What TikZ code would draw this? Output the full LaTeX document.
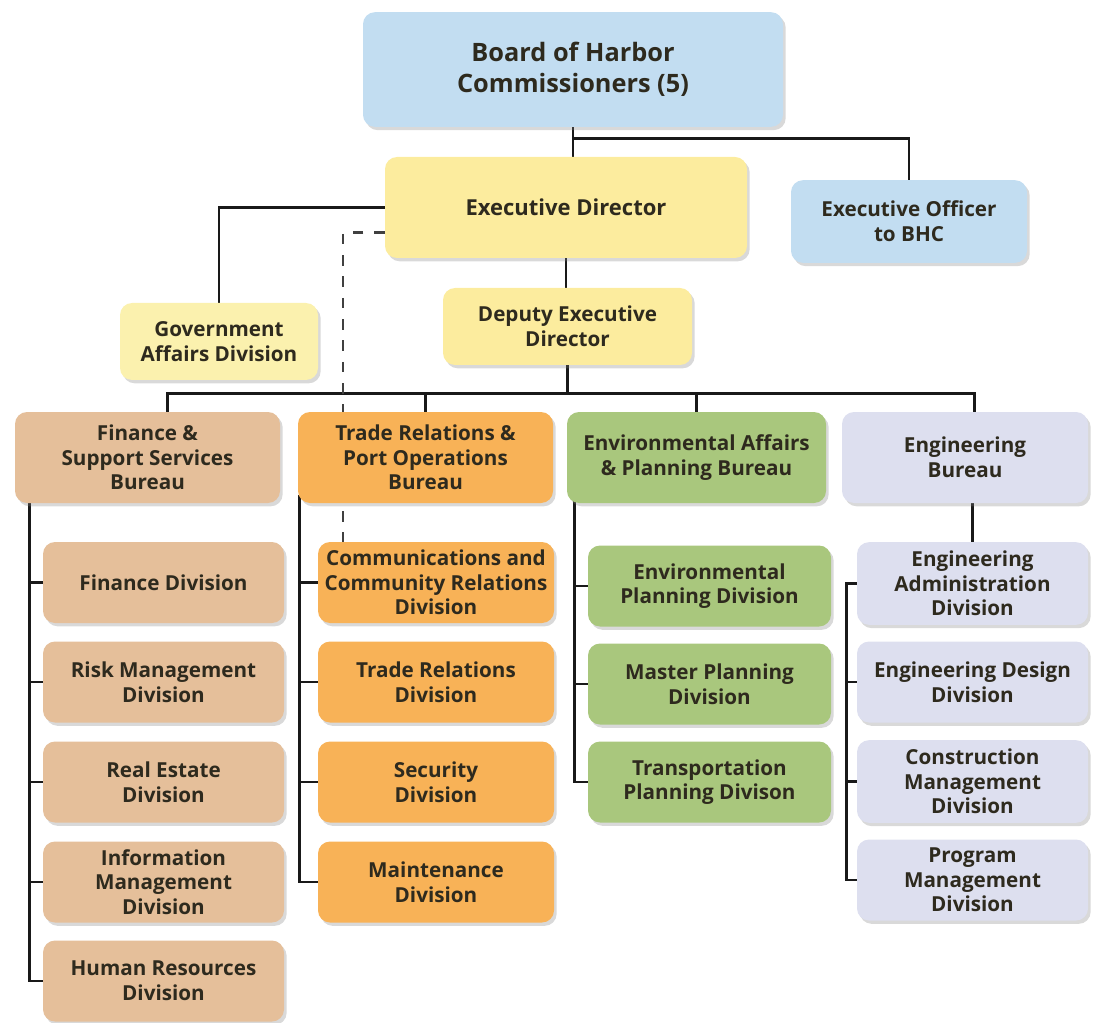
\documentclass[tikz,border=0pt]{standalone}
\usepackage{fontspec}
\setmainfont{Open Sans}
\usepackage{xcolor}
\usetikzlibrary{positioning,calc,shadows}

\definecolor{bhcblue}{HTML}{C2DDF1}
\definecolor{edyellow}{HTML}{FCEC9E}
\definecolor{govyellow}{HTML}{FBF1AE}
\definecolor{fintan}{HTML}{E5BF9A}
\definecolor{tradeorange}{HTML}{F8B257}
\definecolor{envgreen}{HTML}{A9C77D}
\definecolor{englav}{HTML}{DDDFEF}
\definecolor{inkdark}{HTML}{2E2A1E}

\pgfdeclarelayer{bg}
\pgfsetlayers{bg,main}

\begin{document}
\begin{tikzpicture}[x=0.75pt, y=-0.75pt,
  every node/.style={font=\bfseries\fontsize{15.5}{18.5}\selectfont, text=inkdark},
  unit/.style={rounded corners=9pt, align=center, inner sep=1pt,
               drop shadow={shadow xshift=2pt, shadow yshift=-2.5pt, opacity=.3}},
  link/.style={line width=2.2pt, black!90},
  dotlink/.style={line width=2pt, black!75, dash pattern=on 8pt off 8pt}]
  \useasboundingbox (0,0) rectangle (1099,1023);

  % top of the chart
  \node[unit, fill=bhcblue, minimum width=315pt, minimum height=86pt,
        font=\bfseries\fontsize{19}{23}\selectfont] (board) at (573,69.5)
       {Board of Harbor\\Commissioners (5)};
  \node[unit, fill=edyellow, minimum width=271.5pt, minimum height=75.75pt,
        font=\bfseries\fontsize{16.5}{19}\selectfont] (exec) at (566,207.5)
       {Executive Director};
  \node[unit, fill=bhcblue, minimum width=177pt, minimum height=62pt] (officer) at (909,221.5)
       {Executive Officer\\to BHC};
  \node[unit, fill=govyellow, minimum width=148.5pt, minimum height=57.75pt] (gov) at (219,341.5)
       {Government\\Affairs Division};
  \node[unit, fill=edyellow, minimum width=186.75pt, minimum height=57.75pt] (deputy) at (567.5,326.5)
       {Deputy Executive\\Director};

  % bureaus
  \node[unit, fill=fintan, minimum width=198.75pt, minimum height=68.25pt] (finb) at (147.5,457.5)
       {Finance \&\\Support Services\\Bureau};
  \node[unit, fill=tradeorange, minimum width=191.25pt, minimum height=68.25pt] (trb) at (425.5,457.5)
       {Trade Relations \&\\Port Operations\\Bureau};
  \node[unit, fill=envgreen, minimum width=194.25pt, minimum height=68.25pt] (envb) at (696.5,457.5)
       {Environmental Affairs\\\& Planning Bureau};
  \node[unit, fill=englav, minimum width=184.5pt, minimum height=68.25pt] (engb) at (965,457.5)
       {Engineering\\Bureau};

  % finance divisions
  \node[unit, fill=fintan, minimum width=180.75pt, minimum height=60.75pt] (fin1) at (163.5,582.5)
       {Finance Division};
  \node[unit, fill=fintan, minimum width=180.75pt, minimum height=60.75pt] (fin2) at (163.5,682)
       {Risk Management\\Division};
  \node[unit, fill=fintan, minimum width=180.75pt, minimum height=60.75pt] (fin3) at (163.5,782)
       {Real Estate\\Division};
  \node[unit, fill=fintan, minimum width=180.75pt, minimum height=60.75pt] (fin4) at (163.5,882)
       {Information\\Management\\Division};
  \node[unit, fill=fintan, minimum width=180.75pt, minimum height=60.75pt] (fin5) at (163.5,981)
       {Human Resources\\Division};

  % trade divisions
  \node[unit, fill=tradeorange, minimum width=177pt, minimum height=60.75pt] (tr1) at (436,582.5)
       {Communications and\\Community Relations\\Division};
  \node[unit, fill=tradeorange, minimum width=177pt, minimum height=60.75pt] (tr2) at (436,682)
       {Trade Relations\\Division};
  \node[unit, fill=tradeorange, minimum width=177pt, minimum height=60.75pt] (tr3) at (436,782)
       {Security\\Division};
  \node[unit, fill=tradeorange, minimum width=177pt, minimum height=60.75pt] (tr4) at (436,882)
       {Maintenance\\Division};

  % environmental divisions
  \node[unit, fill=envgreen, minimum width=182.25pt, minimum height=60.75pt] (env1) at (709.5,586)
       {Environmental\\Planning Division};
  \node[unit, fill=envgreen, minimum width=182.25pt, minimum height=60.75pt] (env2) at (709.5,684)
       {Master Planning\\Division};
  \node[unit, fill=envgreen, minimum width=182.25pt, minimum height=60.75pt] (env3) at (709.5,782)
       {Transportation\\Planning Divison};

  % engineering divisions
  \node[unit, fill=englav, minimum width=173.25pt, minimum height=62pt] (eng1) at (972.5,583.5)
       {Engineering\\Administration\\Division};
  \node[unit, fill=englav, minimum width=173.25pt, minimum height=60.75pt] (eng2) at (972.5,682)
       {Engineering Design\\Division};
  \node[unit, fill=englav, minimum width=173.25pt, minimum height=62pt] (eng3) at (972.5,781.5)
       {Construction\\Management\\Division};
  \node[unit, fill=englav, minimum width=173.25pt, minimum height=60.75pt] (eng4) at (972.5,880)
       {Program\\Management\\Division};

  % connectors go behind the boxes
  \begin{pgfonlayer}{bg}
    \coordinate (bhcbus) at ($(board.south)+(0,11)$);
    \draw[link] (board.south) -- (board.south |- exec.north);
    \draw[link] (bhcbus) -| (officer.north);
    \draw[link] (exec.west) -| (gov.north);
    \draw[link] (exec.south) -- (exec.south |- deputy.north);

    \coordinate (bus) at ($(deputy.south)+(0,28)$);
    \draw[link] (deputy.south) -- (bus);
    \draw[link] ([xshift=15pt]finb.north) |- (bus) -| ([xshift=7pt]engb.north);
    \draw[link] (trb.north) -- (trb.north |- bus);
    \draw[link] (envb.north) -- (envb.north |- bus);

    \coordinate (finspine) at ([xshift=11pt,yshift=6pt]finb.south west);
    \draw[link] (finspine) |- (fin5.west);
    \draw[link] (fin1.west) -- (fin1.west -| finspine);
    \draw[link] (fin2.west) -- (fin2.west -| finspine);
    \draw[link] (fin3.west) -- (fin3.west -| finspine);
    \draw[link] (fin4.west) -- (fin4.west -| finspine);

    \coordinate (trspine) at ([xshift=1.5pt,yshift=6pt]trb.south west);
    \draw[link] (trspine) |- (tr4.west);
    \draw[link] (tr1.west) -- (tr1.west -| trspine);
    \draw[link] (tr2.west) -- (tr2.west -| trspine);
    \draw[link] (tr3.west) -- (tr3.west -| trspine);

    \coordinate (envspine) at ([xshift=6pt,yshift=6pt]envb.south west);
    \draw[link] (envspine) |- (env3.west);
    \draw[link] (env1.west) -- (env1.west -| envspine);
    \draw[link] (env2.west) -- (env2.west -| envspine);

    \draw[link] (eng1.north |- engb.south) -- (eng1.north);
    \coordinate (engspine) at ([xshift=-8pt]eng1.west);
    \draw[link] (eng1.west) -- (engspine) |- (eng4.west);
    \draw[link] (eng2.west) -- (eng2.west -| engspine);
    \draw[link] (eng3.west) -- (eng3.west -| engspine);

    \coordinate (dashx) at (343,0);
    \draw[dotlink] ([yshift=-19pt]exec.west) -| (dashx |- tr1.north);
  \end{pgfonlayer}
\end{tikzpicture}
\end{document}
